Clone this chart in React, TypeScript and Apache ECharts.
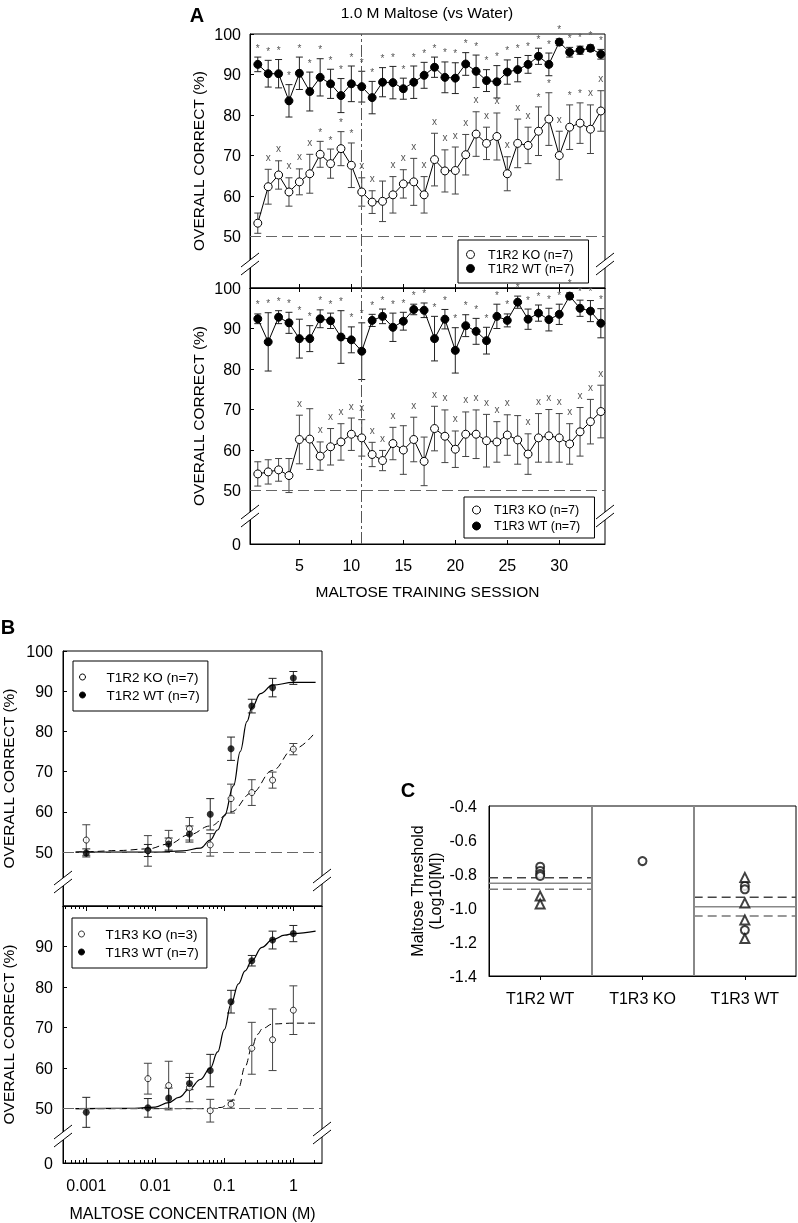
import React, { useEffect, useRef } from "react";
import * as echarts from "echarts";

const FONT = "'Liberation Sans', Arial, sans-serif";

// ---------- Panel A data (1.0 M maltose vs water, training sessions) ----------
const sessions = [1, 2, 3, 4, 5, 6, 7, 8, 9, 10, 11, 12, 13, 14, 15, 16, 17, 18, 19, 20, 21, 22, 23, 24, 25, 26, 27, 28, 29, 30, 31, 32, 33, 34];
const sessionTicks = [5, 10, 15, 20, 25, 30];

const aT1R2WtMean = [92.5, 90.2, 90.2, 83.5, 90.3, 85.8, 89.3, 87.7, 84.8, 87.7, 87.0, 84.3, 88.1, 88.0, 86.5, 88.1, 89.8, 91.8, 89.3, 89.1, 92.6, 90.8, 88.5, 88.2, 90.6, 91.2, 92.5, 94.5, 92.5, 98.0, 95.5, 96.0, 96.5, 95.0];
const aT1R2WtErr = [1.8, 3.3, 3.5, 4.0, 4.0, 4.8, 4.6, 3.6, 4.2, 4.4, 3.8, 4.0, 3.6, 4.0, 2.6, 4.0, 3.2, 2.5, 3.8, 3.8, 2.8, 4.0, 2.7, 4.0, 3.0, 3.0, 2.2, 2.0, 2.8, 0.8, 1.2, 1.0, 0.8, 1.2];
const aT1R2KoMean = [53.3, 62.3, 65.2, 61.0, 63.5, 65.5, 70.3, 68.0, 71.7, 67.6, 61.0, 58.5, 58.7, 60.3, 63.0, 63.5, 60.3, 69.0, 66.2, 66.3, 70.2, 75.3, 73.0, 74.7, 65.5, 73.0, 72.5, 76.0, 79.0, 70.0, 77.0, 78.0, 76.5, 81.0];
const aT1R2KoErr = [2.5, 4.3, 3.5, 3.5, 3.2, 4.8, 3.2, 3.6, 4.2, 5.5, 3.5, 2.8, 5.0, 4.5, 3.5, 5.8, 4.5, 6.5, 5.2, 5.8, 5.0, 5.5, 4.0, 5.8, 4.2, 6.0, 4.5, 6.0, 6.5, 6.0, 5.5, 5.0, 6.0, 5.0];
const aT1R2WtSig = ["*", "*", "*", "*", "*", "*", "*", "*", "*", "*", "*", "*", "*", "*", "*", "*", "*", "*", "*", "*", "*", "*", "*", "*", "*", "*", "*", "*", "*", "*", "*", "*", "*", "*"];
const aT1R2KoSig = ["", "x", "x", "x", "x", "x", "*", "*", "*", "*", "x", "x", "", "x", "x", "x", "x", "x", "x", "x", "x", "x", "x", "x", "x", "x", "x", "*", "*", "x", "*", "*", "x", "x"];

const aT1R3WtMean = [92.4, 86.7, 92.8, 91.4, 87.5, 87.5, 92.4, 91.9, 87.9, 87.2, 84.4, 92.0, 93.0, 90.3, 91.8, 94.7, 94.5, 87.5, 92.3, 84.6, 90.7, 89.3, 87.0, 93.0, 92.0, 96.5, 92.3, 93.8, 92.2, 93.5, 98.0, 95.0, 94.3, 91.3];
const aT1R3WtErr = [1.2, 7.2, 1.6, 2.6, 4.8, 3.2, 2.2, 1.9, 6.5, 3.2, 7.0, 1.5, 1.8, 3.5, 2.2, 1.3, 1.8, 5.5, 2.4, 5.6, 2.7, 3.2, 3.3, 3.0, 1.6, 1.5, 2.5, 2.0, 2.8, 2.5, 0.8, 2.0, 2.6, 3.6];
const aT1R3KoMean = [54.1, 54.6, 55.1, 53.7, 62.6, 62.7, 58.5, 60.8, 62.0, 63.9, 63.0, 58.9, 57.4, 61.6, 60.0, 62.6, 57.2, 65.3, 63.4, 60.2, 63.9, 63.9, 62.3, 62.0, 63.7, 62.5, 59.0, 63.0, 63.5, 63.0, 61.5, 64.5, 67.0, 69.5];
const aT1R3KoErr = [3.0, 3.0, 2.8, 4.2, 6.0, 7.5, 3.5, 4.5, 4.5, 4.0, 4.5, 3.0, 2.5, 4.0, 6.0, 5.5, 6.0, 5.5, 6.5, 4.5, 5.5, 6.0, 6.5, 5.0, 5.0, 6.0, 5.0, 6.0, 6.5, 6.0, 5.0, 6.0, 5.5, 6.5];
const aT1R3WtSig = ["*", "*", "*", "*", "*", "*", "*", "*", "*", "*", "*", "*", "*", "*", "*", "*", "*", "*", "*", "*", "*", "*", "*", "*", "*", "*", "*", "*", "*", "*", "*", "*", "*", "*"];
const aT1R3KoSig = ["", "", "", "", "x", "", "x", "x", "x", "x", "x", "x", "x", "x", "", "x", "", "x", "x", "x", "x", "x", "x", "x", "x", "", "x", "x", "x", "x", "x", "x", "x", "x"];

const pctTicksTop = [50, 60, 70, 80, 90, 100];

// ---------- Panel B data (concentration-response) ----------
const conc = [0.001, 0.0078125, 0.015625, 0.03125, 0.0625, 0.125, 0.25, 0.5, 1];
const concTicks = [0.001, 0.01, 0.1, 1];
const concMinorTicks = [0.0005, 0.0006, 0.0007, 0.0008, 0.0009, 0.002, 0.003, 0.004, 0.005, 0.006, 0.007, 0.008, 0.009, 0.02, 0.03, 0.04, 0.05, 0.06, 0.07, 0.08, 0.09, 0.2, 0.3, 0.4, 0.5, 0.6, 0.7, 0.8, 0.9, 2];

const bT1R2KoMean = [53.0, 50.3, 52.8, 55.8, 51.8, 63.3, 64.8, 67.9, 75.6];
const bT1R2KoErr = [3.8, 3.8, 2.6, 2.8, 2.8, 3.6, 3.2, 2.0, 1.4];
const bT1R2WtMean = [49.8, 50.4, 52.0, 54.5, 59.4, 75.7, 86.3, 90.9, 93.3];
const bT1R2WtErr = [1.0, 1.5, 1.5, 2.0, 3.9, 2.9, 1.7, 2.3, 1.6];
const bT1R2WtFitX = [0.0007, 0.01, 0.025, 0.045, 0.0625, 0.08, 0.1, 0.136, 0.17, 0.213, 0.25, 0.333, 0.5, 1, 2.1];
const bT1R2WtFitY = [50, 50, 50.3, 51, 53, 55.5, 59, 66.5, 75, 82.5, 85.9, 89.4, 91.5, 92.2, 92.2];
const bT1R2KoFitX = [0.0007, 0.001, 0.003, 0.0078, 0.0156, 0.031, 0.0625, 0.125, 0.25, 0.5, 1, 2.1];
const bT1R2KoFitY = [50, 50.1, 50.4, 50.8, 52, 54.3, 56.5, 60, 64.7, 70.3, 75.6, 79.9];

const concT1R3Ko = [0.0078125, 0.015625, 0.03125, 0.0625, 0.125, 0.25, 0.5, 1];
const bT1R3KoMean = [57.4, 55.7, 55.2, 49.5, 51.1, 64.9, 67.0, 74.3];
const bT1R3KoErr = [3.8, 6.0, 3.5, 2.8, 1.0, 6.4, 7.6, 6.0];
const bT1R3WtMean = [49.1, 50.2, 52.6, 56.2, 59.4, 76.4, 86.5, 91.6, 93.2];
const bT1R3WtErr = [3.7, 2.3, 2.5, 1.5, 4.0, 2.8, 1.3, 2.2, 2.0];
const bT1R3WtFitX = [0.0007, 0.005, 0.01, 0.0156, 0.022, 0.031, 0.045, 0.0625, 0.08, 0.1, 0.125, 0.16, 0.2, 0.25, 0.35, 0.5, 0.75, 1, 2.1];
const bT1R3WtFitY = [50, 50.1, 50.4, 51.5, 52.8, 54.8, 57.2, 60, 64, 69.5, 75.8, 80.8, 84, 86.5, 89.8, 91.7, 92.8, 93.2, 93.8];
const bT1R3KoFitX = [0.0007, 0.06, 0.09, 0.125, 0.16, 0.2, 0.25, 0.3, 0.36, 0.5, 1, 2.1];
const bT1R3KoFitY = [50, 50, 50.3, 51.8, 55, 60.4, 65, 68.3, 69.8, 70.9, 71.1, 71.1];

// ---------- Panel C data (thresholds) ----------
const cCats = ["T1R2 WT", "T1R3 KO", "T1R3 WT"];
const cCircles = [[-0.757, -0.782, -0.8, -0.812], [-0.724], [-0.87, -0.89, -1.13]];
const cTriangles = [[-0.93, -0.977], [], [-0.82, -0.97, -1.07, -1.18]];
const cStatGroup = [0, 2];
const cMean = [-0.855, -0.992];
const cLo = [-0.89, -1.047];
const cHi = [-0.822, -0.937];

// ---------- helpers ----------
const lbl = { fontFamily: FONT, fontSize: 16, color: "#000" };
const axisLineBlack = { show: true, lineStyle: { color: "#000", width: 1 } };

function errBars(xi: number, yi: number, xs: number[], mean: number[], err: number[], half: number, color: string) {
  return {
    type: "custom",
    xAxisIndex: xi,
    yAxisIndex: yi,
    silent: true,
    z: 2,
    itemStyle: { color },
    encode: { x: 0, y: 1 },
    data: xs.map((x, i) => [x, mean[i], err[i]]),
    renderItem: (_p: any, api: any) => {
      const x = api.value(0), m = api.value(1), e = api.value(2);
      const a = api.coord([x, m + e]);
      const b = api.coord([x, m - e]);
      const st = { stroke: color, lineWidth: 1 };
      return {
        type: "group",
        children: [
          { type: "line", shape: { x1: a[0], y1: a[1], x2: b[0], y2: b[1] }, style: st },
          { type: "line", shape: { x1: a[0] - half, y1: a[1], x2: a[0] + half, y2: a[1] }, style: st },
          { type: "line", shape: { x1: b[0] - half, y1: b[1], x2: b[0] + half, y2: b[1] }, style: st },
        ],
      };
    },
  };
}

function sigMarks(xi: number, yi: number, xs: number[], mean: number[], err: number[], marks: string[]) {
  return {
    type: "custom",
    xAxisIndex: xi,
    yAxisIndex: yi,
    silent: true,
    z: 4,
    itemStyle: { color: "#555" },
    encode: { x: 0, y: 1 },
    data: xs.map((x, i) => [x, mean[i] + err[i]]),
    renderItem: (p: any, api: any) => {
      const t = marks[p.dataIndex];
      if (!t) return null;
      const pt = api.coord([api.value(0), api.value(1)]);
      return {
        type: "text",
        x: pt[0],
        y: pt[1] - (t === "*" ? 9 : 12),
        style: { text: t, fill: "#555", font: `10px ${FONT}`, align: "center", verticalAlign: "middle" },
      };
    },
  };
}

function panelA(xi: number, yi: number, koName: string, wtName: string, koMean: number[], koErr: number[], wtMean: number[], wtErr: number[], koSig: string[], wtSig: string[]) {
  return [
    errBars(xi, yi, sessions, koMean, koErr, 3.5, "#444"),
    errBars(xi, yi, sessions, wtMean, wtErr, 3.5, "#222"),
    {
      type: "line",
      name: koName,
      xAxisIndex: xi,
      yAxisIndex: yi,
      z: 5,
      data: sessions.map((s, i) => [s, koMean[i]]),
      symbol: "circle",
      symbolSize: 8,
      itemStyle: { color: "#fff", borderColor: "#000", borderWidth: 1 },
      lineStyle: { color: "#000", width: 1 },
      emphasis: { disabled: true },
      markLine: {
        silent: true,
        symbol: "none",
        label: { show: false },
        data: [
          { yAxis: 50, lineStyle: { color: "#666", type: [11, 5], width: 1 } },
          { xAxis: 11, lineStyle: { color: "#555", type: [12, 3, 3, 3], width: 1 } },
        ],
      },
    },
    {
      type: "line",
      name: wtName,
      xAxisIndex: xi,
      yAxisIndex: yi,
      z: 5,
      data: sessions.map((s, i) => [s, wtMean[i]]),
      symbol: "circle",
      symbolSize: 8,
      itemStyle: { color: "#000", borderColor: "#000", borderWidth: 1 },
      lineStyle: { color: "#000", width: 1 },
      emphasis: { disabled: true },
    },
    sigMarks(xi, yi, sessions, koMean, koErr, koSig),
    sigMarks(xi, yi, sessions, wtMean, wtErr, wtSig),
  ];
}

function panelB(xi: number, yi: number, koName: string, wtName: string, koX: number[], koMean: number[], koErr: number[], wtX: number[], wtMean: number[], wtErr: number[], wtFitX: number[], wtFitY: number[], koFitX: number[], koFitY: number[]) {
  return [
    {
      type: "line",
      xAxisIndex: xi,
      yAxisIndex: yi,
      z: 3,
      data: wtFitX.map((x, i) => [x, wtFitY[i]]),
      smooth: 0.4,
      smoothMonotone: "x",
      symbol: "none",
      lineStyle: { color: "#000", width: 1.2 },
      emphasis: { disabled: true },
      markLine: {
        silent: true,
        symbol: "none",
        label: { show: false },
        data: [{ yAxis: 50, lineStyle: { color: "#666", type: [11, 5], width: 1 } }],
      },
    },
    {
      type: "line",
      xAxisIndex: xi,
      yAxisIndex: yi,
      z: 3,
      data: koFitX.map((x, i) => [x, koFitY[i]]),
      smooth: 0.4,
      smoothMonotone: "x",
      symbol: "none",
      lineStyle: { color: "#000", width: 1, type: [7, 4] },
      emphasis: { disabled: true },
    },
    errBars(xi, yi, koX, koMean, koErr, 4, "#444"),
    errBars(xi, yi, wtX, wtMean, wtErr, 4, "#222"),
    {
      type: "scatter",
      name: koName,
      xAxisIndex: xi,
      yAxisIndex: yi,
      z: 5,
      data: koX.map((x, i) => [x, koMean[i]]),
      symbol: "circle",
      symbolSize: 6,
      itemStyle: { color: "#fff", borderColor: "#000", borderWidth: 1 },
      emphasis: { disabled: true },
    },
    {
      type: "scatter",
      name: wtName,
      xAxisIndex: xi,
      yAxisIndex: yi,
      z: 5,
      data: wtX.map((x, i) => [x, wtMean[i]]),
      symbol: "circle",
      symbolSize: 7,
      itemStyle: { color: "#000" },
      emphasis: { disabled: true },
    },
  ];
}

function pctAxis(gi: number, min: number, ticks: number[], nameGap: number, margin: number) {
  return {
    gridIndex: gi,
    type: "value",
    min,
    max: 100,
    axisLine: axisLineBlack,
    splitLine: { show: false },
    axisTick: { show: true, inside: true, length: 4, customValues: ticks, lineStyle: { color: "#000" } },
    axisLabel: { ...lbl, margin, customValues: ticks, formatter: (v: number) => (v < 45 ? "0" : String(Math.round(v))) },
    name: "OVERALL CORRECT (%)",
    nameLocation: "middle",
    nameGap,
    nameTextStyle: { fontFamily: FONT, fontSize: 15.5, color: "#000" },
  };
}

function brk(x: number, y: number) {
  const st = { stroke: "#000", lineWidth: 1 };
  return [
    { type: "rect", z: 100, shape: { x: x - 3, y: y - 4, width: 6, height: 8 }, style: { fill: "#fff" } },
    { type: "line", z: 101, shape: { x1: x - 9, y1: y + 3, x2: x + 9, y2: y - 11 }, style: st },
    { type: "line", z: 101, shape: { x1: x - 9, y1: y + 11, x2: x + 9, y2: y - 3 }, style: st },
  ];
}

function legendBox(names: string[], left: number, top: number, opts: any) {
  return {
    orient: "vertical",
    left,
    top,
    selectedMode: false,
    borderColor: "#000",
    borderWidth: 1,
    backgroundColor: "#fff",
    itemWidth: opts.itemWidth,
    itemHeight: opts.itemHeight,
    itemGap: opts.itemGap,
    padding: opts.padding,
    textStyle: { fontFamily: FONT, fontSize: opts.fontSize, lineHeight: opts.lineHeight, color: "#000" },
    data: [
      { name: names[0], icon: "circle", itemStyle: { color: "#fff", borderColor: "#000", borderWidth: 1 } },
      { name: names[1], icon: "circle", itemStyle: { color: "#000", borderColor: "#000", borderWidth: 1 } },
    ],
  };
}

const logAxisBase = { type: "log", logBase: 10, min: 0.00046, max: 2.6, splitLine: { show: false } };
const sessAxisBase = { type: "value", min: 0.25, max: 34.4, splitLine: { show: false } };

export default function App() {
  const ref = useRef<HTMLDivElement>(null);
  useEffect(() => {
    if (!ref.current) return;
    const chart = echarts.init(ref.current, null, { renderer: "svg" });
    const option: any = {
      animation: false,
      backgroundColor: "#fff",
      textStyle: { fontFamily: FONT },
      grid: [
        { left: 250, top: 34, width: 355, height: 254, show: true, borderColor: "#000", borderWidth: 1, outerBoundsMode: "none" },
        { left: 250, top: 288, width: 355, height: 256, show: true, borderColor: "#000", borderWidth: 1, outerBoundsMode: "none" },
        { left: 63, top: 651, width: 259, height: 255, show: true, borderColor: "#000", borderWidth: 1, outerBoundsMode: "none" },
        { left: 63, top: 906, width: 259, height: 257, show: true, borderColor: "#000", borderWidth: 1, outerBoundsMode: "none" },
        { left: 489, top: 806, width: 307, height: 170, show: true, borderColor: "#000", borderWidth: 1, outerBoundsMode: "none" },
      ],
      xAxis: [
        { ...sessAxisBase, gridIndex: 0, position: "bottom", axisLine: axisLineBlack, axisLabel: { show: false }, axisTick: { show: true, inside: true, length: 4, customValues: sessionTicks, lineStyle: { color: "#000" } } },
        {
          ...sessAxisBase, gridIndex: 1, position: "bottom", axisLine: axisLineBlack,
          axisLabel: { ...lbl, margin: 13, customValues: sessionTicks },
          axisTick: { show: true, inside: true, length: 4, customValues: sessionTicks, lineStyle: { color: "#000" } },
          name: "MALTOSE TRAINING SESSION", nameLocation: "middle", nameGap: 39, nameTextStyle: { fontFamily: FONT, fontSize: 15.5, color: "#000" },
        },
        { ...sessAxisBase, gridIndex: 1, position: "top", axisLine: axisLineBlack, axisLabel: { show: false }, axisTick: { show: true, inside: true, length: 4, customValues: sessionTicks, lineStyle: { color: "#000" } } },
        { ...logAxisBase, gridIndex: 2, position: "bottom", axisLine: axisLineBlack, axisLabel: { show: false }, axisTick: { show: false } },
        {
          ...logAxisBase, gridIndex: 3, position: "bottom", axisLine: axisLineBlack,
          axisLabel: { ...lbl, margin: 14, customValues: concTicks, formatter: (v: number) => String(v) },
          axisTick: { show: true, inside: true, length: 5, customValues: concTicks, lineStyle: { color: "#000" } },
          name: "MALTOSE CONCENTRATION (M)", nameLocation: "middle", nameGap: 42, nameTextStyle: { fontFamily: FONT, fontSize: 16, color: "#000" },
        },
        { ...logAxisBase, gridIndex: 3, position: "bottom", axisLine: { show: false }, axisLabel: { show: false }, axisTick: { show: true, inside: true, length: 3, customValues: concMinorTicks, lineStyle: { color: "#000" } } },
        { ...logAxisBase, gridIndex: 3, position: "top", axisLine: axisLineBlack, axisLabel: { show: false }, axisTick: { show: true, inside: true, length: 5, customValues: concTicks, lineStyle: { color: "#000" } } },
        { ...logAxisBase, gridIndex: 3, position: "top", axisLine: { show: false }, axisLabel: { show: false }, axisTick: { show: true, inside: true, length: 3, customValues: concMinorTicks, lineStyle: { color: "#000" } } },
        {
          gridIndex: 4, type: "value", min: 0, max: 3, position: "bottom", axisLine: axisLineBlack, splitLine: { show: false },
          axisLabel: { ...lbl, margin: 14, customValues: [0.5, 1.5, 2.5], formatter: (v: number) => cCats[Math.floor(v)] },
          axisTick: { show: true, inside: false, length: 4, customValues: [0.5, 1.5, 2.5], lineStyle: { color: "#000" } },
        },
      ],
      yAxis: [
        pctAxis(0, 37.3, pctTicksTop, 44, 9),
        pctAxis(1, 36.8, [36.8, 50, 60, 70, 80, 90, 100], 44, 9),
        pctAxis(2, 36.6, pctTicksTop, 47, 10),
        pctAxis(3, 36.6, [36.6, 50, 60, 70, 80, 90], 47, 10),
        {
          gridIndex: 4, type: "value", min: -1.4, max: -0.4, interval: 0.2,
          axisLine: axisLineBlack, splitLine: { show: false }, axisTick: { show: false },
          axisLabel: { ...lbl, margin: 12, formatter: (v: number) => v.toFixed(1) },
          name: "Maltose Threshold\n(Log10[M])", nameLocation: "middle", nameGap: 45,
          nameTextStyle: { fontFamily: FONT, fontSize: 16, lineHeight: 18, color: "#000" },
        },
      ],
      legend: [
        legendBox(["T1R2 KO (n=7)", "T1R2 WT (n=7)"], 458, 240, { itemWidth: 25, itemHeight: 8, itemGap: 1, padding: [8, 14, 8, 8], fontSize: 12.5, lineHeight: 13 }),
        legendBox(["T1R3 KO (n=7)", "T1R3 WT (n=7)"], 464, 497, { itemWidth: 25, itemHeight: 8, itemGap: 3, padding: [6.5, 14, 5.5, 8], fontSize: 12.5, lineHeight: 13 }),
        legendBox(["T1R2 KO (n=7)", "T1R2 WT (n=7)"], 73, 661, { itemWidth: 38, itemHeight: 6, itemGap: 2, padding: [8, 8, 8, 6], fontSize: 13.5, lineHeight: 16 }),
        legendBox(["T1R3 KO (n=3)", "T1R3 WT (n=7)"], 72, 918, { itemWidth: 38, itemHeight: 6, itemGap: 2, padding: [8, 8, 8, 6], fontSize: 13.5, lineHeight: 16 }),
      ],
      series: [
        ...panelA(0, 0, "T1R2 KO (n=7)", "T1R2 WT (n=7)", aT1R2KoMean, aT1R2KoErr, aT1R2WtMean, aT1R2WtErr, aT1R2KoSig, aT1R2WtSig),
        ...panelA(1, 1, "T1R3 KO (n=7)", "T1R3 WT (n=7)", aT1R3KoMean, aT1R3KoErr, aT1R3WtMean, aT1R3WtErr, aT1R3KoSig, aT1R3WtSig),
        ...panelB(3, 2, "T1R2 KO (n=7)", "T1R2 WT (n=7)", conc, bT1R2KoMean, bT1R2KoErr, conc, bT1R2WtMean, bT1R2WtErr, bT1R2WtFitX, bT1R2WtFitY, bT1R2KoFitX, bT1R2KoFitY),
        ...panelB(4, 3, "T1R3 KO (n=3)", "T1R3 WT (n=7)", concT1R3Ko, bT1R3KoMean, bT1R3KoErr, conc, bT1R3WtMean, bT1R3WtErr, bT1R3WtFitX, bT1R3WtFitY, bT1R3KoFitX, bT1R3KoFitY),
        {
          type: "custom",
          xAxisIndex: 8,
          yAxisIndex: 4,
          silent: true,
          z: 2,
          itemStyle: { color: "#888" },
          encode: { x: 0, y: 1 },
          data: cStatGroup.map((g, i) => [g, cMean[i], cLo[i], cHi[i]]),
          renderItem: (_p: any, api: any) => {
            const g = api.value(0);
            const seg = (v: number, color: string, dash?: number[]) => {
              const a = api.coord([g, v]);
              const b = api.coord([g + 1, v]);
              const style: any = { stroke: color, lineWidth: 1.5 };
              if (dash) style.lineDash = dash;
              return { type: "line", shape: { x1: a[0], y1: a[1], x2: b[0], y2: b[1] }, style };
            };
            return { type: "group", children: [seg(api.value(1), "#888"), seg(api.value(2), "#777", [9, 5]), seg(api.value(3), "#444", [9, 5])] };
          },
          markLine: {
            silent: true,
            symbol: "none",
            label: { show: false },
            data: [{ xAxis: 1 }, { xAxis: 2 }],
            lineStyle: { color: "#888", width: 2, type: "solid" },
          },
        },
        {
          type: "scatter",
          xAxisIndex: 8,
          yAxisIndex: 4,
          z: 5,
          symbol: "emptyCircle",
          symbolSize: 8,
          itemStyle: { color: "#111", borderWidth: 1 },
          emphasis: { disabled: true },
          data: cCircles.flatMap((arr, g) => arr.map((v) => [g + 0.5, v])),
        },
        {
          type: "scatter",
          xAxisIndex: 8,
          yAxisIndex: 4,
          z: 5,
          symbol: "emptyTriangle",
          symbolSize: 9,
          itemStyle: { color: "#111", borderWidth: 1 },
          emphasis: { disabled: true },
          data: cTriangles.flatMap((arr, g) => arr.map((v) => [g + 0.5, v])),
        },
      ],
      graphic: [
        { type: "text", z: 100, x: 427, y: 12, style: { text: "1.0 M Maltose (vs Water)", font: `15.5px ${FONT}`, fill: "#000", align: "center", verticalAlign: "middle" } },
        { type: "text", z: 100, x: 197, y: 15, style: { text: "A", font: `bold 20px ${FONT}`, fill: "#000", align: "center", verticalAlign: "middle" } },
        { type: "text", z: 100, x: 8, y: 627, style: { text: "B", font: `bold 20px ${FONT}`, fill: "#000", align: "center", verticalAlign: "middle" } },
        { type: "text", z: 100, x: 408, y: 790, style: { text: "C", font: `bold 20px ${FONT}`, fill: "#000", align: "center", verticalAlign: "middle" } },
        ...brk(250, 264),
        ...brk(605, 264),
        ...brk(250, 516),
        ...brk(605, 516),
        ...brk(63, 882),
        ...brk(322, 880),
        ...brk(63, 1136),
        ...brk(322, 1133),
      ],
    };
    chart.setOption(option);
    return () => chart.dispose();
  }, []);
  return <div ref={ref} style={{ position: "absolute", left: 0, top: 0, width: 798, height: 1223, background: "#fff", filter: "grayscale(1)" }} />;
}
